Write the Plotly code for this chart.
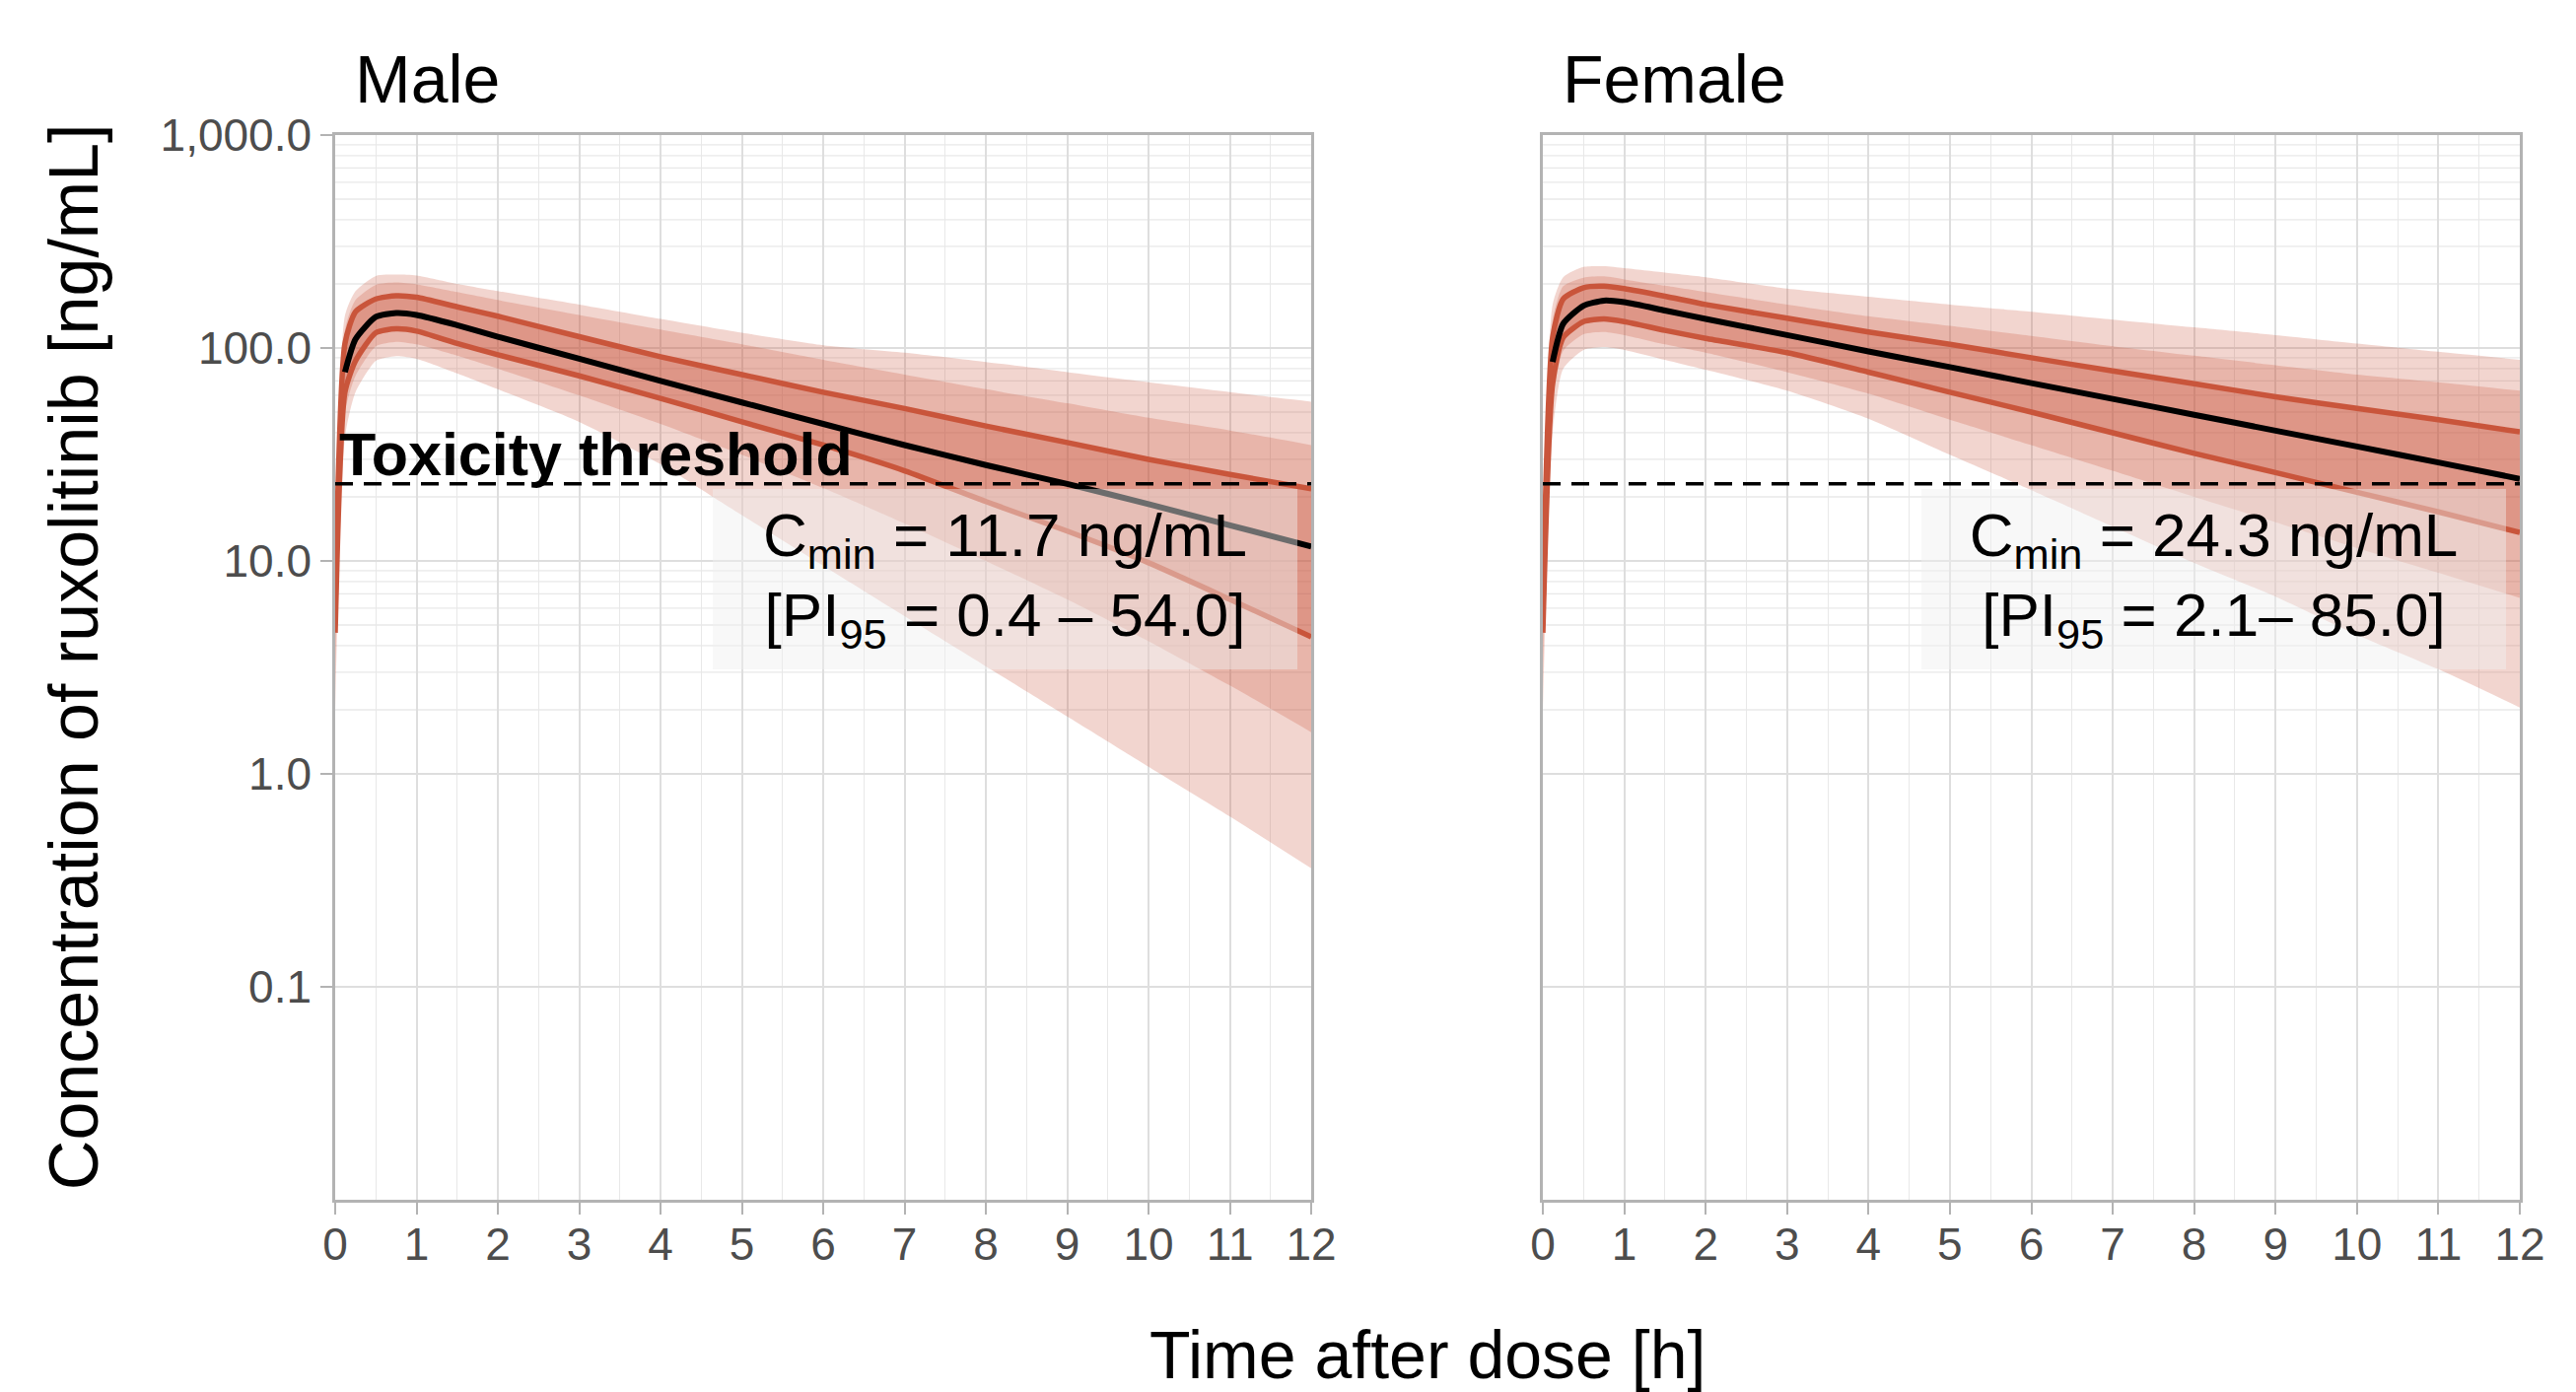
import math
import plotly.graph_objects as go

# ---------------- data ----------------
TIME_H = [0, 0.12, 0.25, 0.5, 0.75, 1, 1.5, 2, 3, 4, 5, 6, 7, 8, 9, 10, 11, 12]

MALE_P025 = [2, 38, 62, 87, 91.5, 89, 76, 64, 45, 28.5, 16.4, 9.5, 5.5, 3.2, 1.86, 1.08, 0.63, 0.36]
MALE_P10 = [3, 50, 74, 102, 107, 104, 92, 80, 60, 44, 31.5, 22, 15, 10, 6.6, 4.2, 2.6, 1.57]
MALE_P25 = [4.6, 62, 87, 118, 123, 120, 105, 93, 74, 58, 45, 35, 26.5, 19, 13.8, 9.8, 6.6, 4.4]
MALE_P50 = [None, 77, 110, 140, 146, 143, 128, 113, 89, 70, 55.5, 44, 35, 28.2, 23, 18.5, 14.7, 11.7]
MALE_P75 = [6, 105, 148, 170, 176, 173, 156, 141, 113, 91, 75, 62, 52, 43, 36, 30, 25.5, 21.8]
MALE_P90 = [7, 122, 168, 198, 203, 199, 183, 168, 143, 122, 104, 88, 75, 64, 55, 47, 41, 35]
MALE_P975 = [9, 142, 185, 218, 221, 219, 200, 185, 160, 137, 118, 103, 95, 86, 77, 69, 62, 56]

FEMALE_P025 = [2, 40, 80, 98, 101, 98, 88, 79, 63, 46.5, 31.5, 21.5, 14.5, 9.8, 6.8, 4.5, 3.1, 2.05]
FEMALE_P10 = [3, 55, 97, 116, 119, 115, 104, 95, 77, 61, 46, 35, 26.5, 20, 15.2, 11.5, 8.8, 6.7]
FEMALE_P25 = [4.6, 68, 112, 133, 137, 133, 121, 111, 95, 77, 62, 50, 40, 32, 26, 21, 17, 13.6]
FEMALE_P50 = [None, 86, 130, 158, 167, 164, 150, 137, 115, 96.4, 81.3, 68.4, 57.7, 48.6, 40.9, 34.5, 29, 24.3]
FEMALE_P75 = [6, 112, 170, 192, 195, 190, 175, 160, 138, 119, 104, 90, 78, 68, 59, 52, 46, 40.4]
FEMALE_P90 = [7, 135, 195, 214, 217, 210, 196, 183, 160, 141, 127, 114, 102, 92, 83, 75, 69, 63]
FEMALE_P975 = [9, 160, 215, 240, 242, 237, 226, 215, 190, 174, 160, 148, 136, 125, 115, 105, 96, 88]

TOX_THRESHOLD = 23.0
PANEL_TITLES = ["Male", "Female"]
CMIN_LABELS = [
    "C<sub>min</sub> = 11.7 ng/mL<br>[PI<sub>95</sub> = 0.4 – 54.0]",
    "C<sub>min</sub> = 24.3 ng/mL<br>[PI<sub>95</sub> = 2.1– 85.0]",
]
X_TICKS = list(range(0, 13))
Y_TICKVALS = [0.1, 1, 10, 100, 1000]
Y_TICKTEXT = ["0.1", "1.0", "10.0", "100.0", "1,000.0"]
Y_MINOR = [m * d for d in (1, 10, 100) for m in range(2, 10)]

# ---------------- styling ----------------
FONT = "Liberation Sans, Arial, Helvetica, sans-serif"
BAND_RGB = "200,80,55"
RED = "#C9553B"
GRID = "#dedede"
GRID_MINOR = "#e8e8e8"
BORDER = "#b3b3b3"
TICKFONT = "#4d4d4d"
YLOG_MIN, YLOG_MAX = -2, 3

panels = [
    dict(p025=MALE_P025, p10=MALE_P10, p25=MALE_P25, p50=MALE_P50,
         p75=MALE_P75, p90=MALE_P90, p975=MALE_P975),
    dict(p025=FEMALE_P025, p10=FEMALE_P10, p25=FEMALE_P25, p50=FEMALE_P50,
         p75=FEMALE_P75, p90=FEMALE_P90, p975=FEMALE_P975),
]

fig = go.Figure()
LS = dict(shape="spline", smoothing=0.6)

for i, p in enumerate(panels):
    xa = "x" if i == 0 else "x2"
    ya = "y" if i == 0 else "y2"
    for lo, hi, a in [(p["p025"], p["p975"], 0.24), (p["p10"], p["p90"], 0.24), (p["p25"], p["p75"], 0.30)]:
        fig.add_trace(go.Scatter(x=TIME_H, y=lo, mode="lines", line=dict(width=0, **LS),
                                 xaxis=xa, yaxis=ya, showlegend=False, hoverinfo="skip"))
        fig.add_trace(go.Scatter(x=TIME_H, y=hi, mode="lines", line=dict(width=0, **LS),
                                 fill="tonexty", fillcolor=f"rgba({BAND_RGB},{a})",
                                 xaxis=xa, yaxis=ya, showlegend=False, hoverinfo="skip"))
    for q in ("p25", "p75"):
        fig.add_trace(go.Scatter(x=TIME_H, y=p[q], mode="lines", line=dict(color=RED, width=5.5, **LS),
                                 xaxis=xa, yaxis=ya, showlegend=False))
    fig.add_trace(go.Scatter(x=TIME_H, y=p["p50"], mode="lines", line=dict(color="black", width=6, **LS),
                             xaxis=xa, yaxis=ya, showlegend=False))
    fig.add_trace(go.Scatter(x=[TIME_H[0], TIME_H[-1]], y=[TOX_THRESHOLD, TOX_THRESHOLD], mode="lines",
                             line=dict(color="black", width=3.5, dash="18px,11px"),
                             xaxis=xa, yaxis=ya, showlegend=False))

axis_common = dict(
    showline=True, mirror=True, linecolor=BORDER, linewidth=2.5,
    showgrid=True, gridcolor=GRID, gridwidth=2, zeroline=False,
    tickfont=dict(family=FONT, size=46, color=TICKFONT),
)
xcommon = dict(axis_common, range=[0, 12], tickvals=X_TICKS, ticks="outside", ticklen=12,
               tickwidth=2, tickcolor=BORDER, ticklabelstandoff=-9,
               minor=dict(dtick=0.5, tick0=0, showgrid=True, gridcolor=GRID_MINOR, gridwidth=1.3))
ycommon = dict(axis_common, type="log", range=[YLOG_MIN, YLOG_MAX], tickvals=Y_TICKVALS)

# the page adds an 8px body margin, so the figure is 8px smaller and margins shifted
fig.update_layout(
    width=2605, height=1404,
    margin=dict(l=332, r=57, t=129, b=195, pad=0),
    paper_bgcolor="white", plot_bgcolor="white",
    font=dict(family=FONT, color="black"),
    xaxis=dict(xcommon, domain=[0, 0.4468], anchor="y"),
    xaxis2=dict(xcommon, domain=[0.5528, 1], anchor="y2"),
    yaxis=dict(ycommon, domain=[0, 1], anchor="x", ticktext=Y_TICKTEXT, ticks="outside",
               ticklen=12, tickwidth=2, tickcolor=BORDER),
    yaxis2=dict(ycommon, domain=[0, 1], anchor="x2", showticklabels=False, ticks=""),
    showlegend=False,
)

shapes = []
for xa, ya in (("x", "y"), ("x2", "y2")):
    for v in Y_MINOR:
        f = (math.log10(v) - YLOG_MIN) / (YLOG_MAX - YLOG_MIN)
        shapes.append(dict(type="line", xref=f"{xa} domain", yref=f"{ya} domain",
                           x0=0, x1=1, y0=f, y1=f, layer="below",
                           line=dict(color=GRID_MINOR, width=1.3)))
fig.update_layout(shapes=shapes)

ann = []
for i, title in enumerate(PANEL_TITLES):
    xa = "x" if i == 0 else "x2"
    ya = "y" if i == 0 else "y2"
    ann.append(dict(text=title, xref=f"{xa} domain", yref="paper", x=0, y=1.053,
                    xanchor="left", yanchor="middle", xshift=18, showarrow=False,
                    font=dict(family=FONT, size=68, color="black")))
    ann.append(dict(text=CMIN_LABELS[i], xref=f"{xa} domain", yref=f"{ya} domain",
                    x=0.6865, y=0.583, xanchor="center", yanchor="middle",
                    width=593, height=183, borderpad=0, borderwidth=0,
                    bgcolor="rgba(240,240,240,0.45)", showarrow=False, align="center",
                    font=dict(family=FONT, size=62, color="black")))

ann.append(dict(text="<b>Toxicity threshold</b>", xref="x domain", yref="y domain",
                x=0.002, y=0.70, xanchor="left", yanchor="middle", showarrow=False,
                font=dict(family=FONT, size=61, color="black")))
ann.append(dict(text="Time after dose [h]", xref="paper", yref="paper", x=0.5, y=-0.145,
                xanchor="center", yanchor="middle", showarrow=False,
                font=dict(family=FONT, size=68, color="black")))
ann.append(dict(text="Concentration of ruxolitinib [ng/mL]", xref="paper", yref="paper",
                x=-0.1196, y=0.51, xanchor="center", yanchor="middle", textangle=-90,
                showarrow=False, font=dict(family=FONT, size=70, color="black")))
fig.update_layout(annotations=ann)

fig.write_html("out.html")
